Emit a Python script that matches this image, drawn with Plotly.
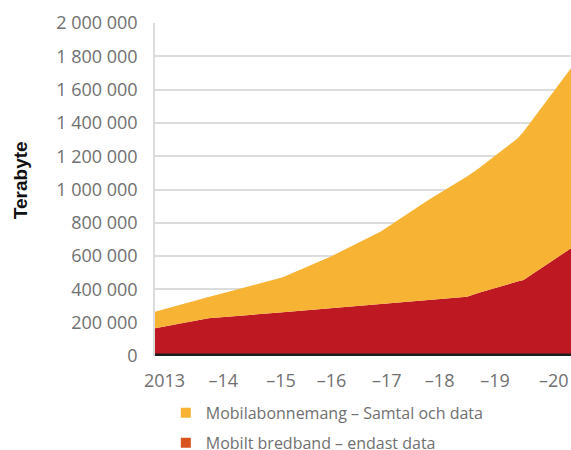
import plotly.graph_objects as go

# Data (decimal years on a continuous x axis)
x_years = [2013.0, 2013.9, 2015.15, 2015.95, 2016.8, 2017.6, 2018.25, 2018.45, 2019.1, 2019.2, 2020.0]
bredband = [166000, 226000, 263000, 287000, 312000, 337000, 356000, 380000, 447000, 456000, 647000]
abonnemang = [100000, 128000, 210000, 309000, 435000, 600000, 722000, 747000, 860000, 891000, 1081000]

tick_pos = [2013.16, 2014.15, 2015.12, 2015.97, 2016.9, 2017.79, 2018.72, 2019.71]
tick_text = ["2013", "\u201314", "\u201315", "\u201316", "\u201317", "\u201318", "\u201319", "\u201320"]
y_ticks = [0, 200000, 400000, 600000, 800000, 1000000, 1200000, 1400000, 1600000, 1800000, 2000000]

name_ab = "Mobilabonnemang \u2013 Samtal och data"
name_bb = "Mobilt bredband \u2013 endast data"

FONT = "Open Sans"
GREY = "#707070"

fig = go.Figure()
fig.add_trace(go.Scatter(x=x_years, y=bredband, stackgroup="s", mode="none",
                         fillcolor="#BE1823", name=name_bb, showlegend=False))
fig.add_trace(go.Scatter(x=x_years, y=abonnemang, stackgroup="s", mode="none",
                         fillcolor="#F7B334", name=name_ab, showlegend=False))
# legend entries (one per legend, for precise row placement)
fig.add_trace(go.Scatter(x=[None], y=[None], mode="markers", name=name_ab, legend="legend",
                         marker=dict(symbol="square", size=10, color="#F7B334")))
fig.add_trace(go.Scatter(x=[None], y=[None], mode="markers", name=name_bb, legend="legend2",
                         marker=dict(symbol="square", size=10, color="#D9531E")))

leg_common = dict(x=0.026, xanchor="left", yanchor="middle",
                  font=dict(size=16, color=GREY), itemwidth=30, bgcolor="rgba(0,0,0,0)")

fig.update_layout(
    width=571, height=450,
    margin=dict(l=155, r=0, t=23, b=94, autoexpand=False),
    paper_bgcolor="white", plot_bgcolor="white",
    separators=", ",
    font=dict(family=FONT, color=GREY, size=16),
    showlegend=True,
    legend=dict(y=-0.171, **leg_common),
    legend2=dict(y=-0.261, **leg_common),
    xaxis=dict(range=[2013, 2020], tickvals=tick_pos, ticktext=tick_text,
               showgrid=False, zeroline=False, showline=False,
               ticks="outside", ticklen=8, tickcolor="rgba(0,0,0,0)",
               tickfont=dict(size=18, color=GREY, family=FONT)),
    yaxis=dict(range=[0, 2000000], tickvals=y_ticks, tickformat=",d",
               showgrid=True, gridcolor="#dcdcdc", gridwidth=1.5,
               zeroline=False, showline=True, linecolor="#dcdcdc", linewidth=1.5,
               ticks="outside", ticklen=12, tickcolor="rgba(0,0,0,0)",
               tickfont=dict(size=18, color=GREY, family=FONT)),
    shapes=[dict(type="line", xref="x domain", yref="y", x0=0, x1=1, y0=0, y1=0,
                 line=dict(color="#1e1e1e", width=5), layer="above")],
    annotations=[dict(text="<b>Terabyte</b>", xref="paper", yref="paper", x=-0.3245, y=0.528,
                      xanchor="center", yanchor="middle", textangle=-90, showarrow=False,
                      font=dict(size=19, color="#111111", family="Liberation Sans"))],
)

fig.write_html("out.html", post_script="document.body.style.margin='0';",
               config={"displayModeBar": False})
